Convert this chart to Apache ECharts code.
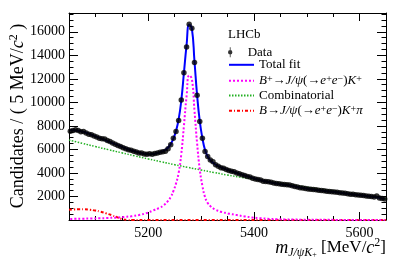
<!DOCTYPE html>
<html><head><meta charset="utf-8">
<script src="https://cdn.jsdelivr.net/npm/echarts@6/dist/echarts.min.js"></script>
<style>html,body{margin:0;padding:0;background:#fff}#c{width:407px;height:262px}</style>
</head><body><div id="c"></div>
<script>
const binLow = 5050, binWidth = 5;
const dataCounts = [
 7550,7600,7680,7620,7500,7520,7400,7300,7250,7150,
 7050,6960,6900,6880,6750,6680,6550,6450,6330,6250,
 6150,6050,5980,5920,5850,5780,5700,5690,5620,5580,
 5640,5600,5650,5700,5760,5800,5850,6050,6400,6950,
 7520,8450,10200,12525,14700,16650,16300,13400,10600,8370,
 6960,5820,5400,5100,4950,4700,4580,4450,4400,4300,
 4200,4150,4100,4000,3930,3850,3780,3700,3650,3550,
 3480,3450,3400,3300,3280,3250,3200,3150,3100,3080,
 3050,3020,3000,2980,2920,2850,2800,2750,2720,2680,
 2640,2620,2600,2570,2540,2500,2480,2450,2420,2400,
 2380,2350,2320,2300,2270,2240,2200,2180,2150,2120,
 2100,2080,2050,2020,2000,1960,2050,1880,1830,1780];
const totalFit = [
 7640,7630,7610,7580,7540,7490,7420,7340,7250,7160,
 7070,6980,6900,6810,6720,6630,6540,6450,6360,6270,
 6180,6090,6010,5930,5860,5790,5730,5680,5640,5610,
 5600,5610,5640,5690,5760,5850,5970,6160,6450,6900,
 7560,8550,10150,12500,14850,16600,16300,13500,10600,8400,
 6950,5950,5400,5080,4870,4710,4580,4480,4390,4300,
 4220,4140,4070,4000,3930,3860,3790,3720,3650,3580,
 3510,3450,3390,3330,3280,3230,3180,3140,3100,3060,
 3030,3000,2970,2940,2900,2860,2810,2770,2730,2690,
 2650,2620,2590,2560,2530,2500,2470,2440,2420,2400,
 2380,2350,2320,2290,2260,2230,2200,2170,2150,2120,
 2100,2080,2050,2020,1990,1960,1930,1890,1840,1790];
const signalFit = [
 90,95,100,105,110,115,120,125,130,135,
 140,145,150,160,170,180,190,200,215,230,
 250,270,290,315,345,380,420,470,530,600,
 680,770,870,960,1050,1200,1380,1620,1950,2450,
 3100,4000,5600,8000,10500,12300,12000,9300,6500,4300,
 2900,1950,1450,1180,1000,870,780,700,640,590,
 540,500,460,420,380,340,305,270,240,210,
 185,165,145,130,115,100,90,80,72,65,
 58,52,47,43,39,35,32,29,26,24,
 22,20,18,17,16,15,14,13,12,11,
 10,10,9,9,8,8,7,7,7,6,
 6,6,5,5,5,5,4,4,4,4];
const combMass = [5050,5075,5100,5125,5150,5175,5200,5225,5250,5275,5300,5325,5350,5375,5400,5425,5450,5475,5500,5525,5550,5575,5600,5625,5650];
const combFit = [6800,6520,6245,5975,5710,5450,5195,4945,4705,4475,4250,4035,3825,3640,3460,3290,3120,2955,2790,2630,2470,2310,2150,1965,1780];
const prMass = [5050,5060,5070,5080,5090,5100,5110,5120,5130,5140,5150,5160,5170,5200,5650];
const prFit = [870,900,920,910,870,800,700,570,420,250,90,20,0,0,0];
const xMajor = [5200,5400,5600];
const xMinor = [5100,5150,5250,5300,5350,5450,5500,5550,5650];
const yMajorLabels = [2000,4000,6000,8000,10000,12000,14000,16000];
const yMinor = [500,1000,1500,2500,3000,3500,4500,5000,5500,6500,7000,7500,8500,9000,9500,10500,11000,11500,12500,13000,13500,14500,15000,15500,16500,17000,17500];

const binCenters = dataCounts.map((_, i) => binLow + binWidth*(i+0.5));

const FONT = 'Liberation Serif';
const rich = {
  n:{fontFamily:FONT,fontSize:13,color:'#000'},
  i:{fontFamily:FONT,fontSize:13,fontStyle:'italic',color:'#000'},
  a:{fontFamily:FONT,fontSize:13,color:'#000'},
  nsup:{fontFamily:FONT,fontSize:10,color:'#000',verticalAlign:'top',lineHeight:10}
};
const NAMES = {
  data:'Data', tot:'Total fit', sig:'B+→J/ψ(→e+e−)K+', comb:'Combinatorial', pr:'B→J/ψ(→e+e−)K+π'
};
const legendFmt = {
  'Data':'{n|Data}', 'Total fit':'{n|Total fit}',
  'B+→J/ψ(→e+e−)K+':'{i|B}{nsup|+}{a|→}{i|J/ψ}{n|(}{a|→}{i|e}{nsup|+}{i|e}{nsup|−}{n|)}{i|K}{nsup|+}',
  'Combinatorial':'{n|Combinatorial}',
  'B→J/ψ(→e+e−)K+π':'{i|B}{a|→}{i|J/ψ}{n|(}{a|→}{i|e}{nsup|+}{i|e}{nsup|−}{n|)}{i|K}{nsup|+}{i|π}'
};
const legendCenters = [50.7, 63.3, 79.3, 94, 109.3];
const legendOrder = [NAMES.data, NAMES.tot, NAMES.sig, NAMES.comb, NAMES.pr];
const dataIcon = 'path://M4.4,5A2.2,2.2,0,1,1,0,5A2.2,2.2,0,1,1,4.4,5Z M1.8,0H2.6V10H1.8Z';

const axisLineStyle = {color:'#000',width:1};
const plainNum = (v) => String(v);
function xAx(pos, ticks, len, showLine, labels){
  return {type:'value',min:5050,max:5650,position:pos,
    axisLine:{show:showLine,onZero:false,lineStyle:axisLineStyle},
    axisTick:{show:true,inside:true,length:len,customValues:ticks,lineStyle:axisLineStyle},
    axisLabel:labels?{show:true,customValues:xMajor,formatter:plainNum,fontFamily:FONT,fontSize:14,color:'#000',margin:6}:{show:false},
    splitLine:{show:false}};
}
function yAx(pos, ticks, len, showLine, labels){
  return {type:'value',min:0,max:17600,position:pos,
    axisLine:{show:showLine,onZero:false,lineStyle:axisLineStyle},
    axisTick:{show:true,inside:true,length:len,customValues:ticks,lineStyle:axisLineStyle},
    axisLabel:labels?{show:true,customValues:yMajorLabels,formatter:plainNum,fontFamily:FONT,fontSize:14,color:'#000',margin:4}:{show:false},
    splitLine:{show:false}};
}

const chart = echarts.init(document.getElementById('c'), null, {renderer:'canvas'});
chart.setOption({
  animation:false,
  backgroundColor:'#fff',
  grid:{left:69,right:21,top:13,bottom:42,containLabel:false},
  xAxis:[xAx('bottom',xMajor,8,true,true), xAx('bottom',xMinor,4,false,false), xAx('top',xMajor,8,true,false), xAx('top',xMinor,4,false,false)],
  yAxis:[yAx('left',yMajorLabels,9,true,true), yAx('left',yMinor,4.5,false,false), yAx('right',yMajorLabels,9,true,false), yAx('right',yMinor,4.5,false,false)],
  legend: legendOrder.map((nm,k)=>({
    data:[nm===NAMES.data?{name:nm,icon:dataIcon}:{name:nm,itemStyle:{opacity:0}}],
    orient:'vertical', left:228, top:legendCenters[k]-5, itemWidth:25, itemHeight:10, itemGap:0,
    formatter:(n)=>legendFmt[n], textStyle:{fontFamily:FONT,fontSize:13,color:'#000',rich:rich},
    selectedMode:false, padding:0
  })),
  graphic:[
    {type:'text',left:228,top:28,style:{text:'LHCb',font:'13px "Liberation Serif"',fill:'#000'}},
    {type:'text',x:18,y:116,rotation:Math.PI/2,style:{
      text:'{n|Candidates / ( 5 MeV/}{i|c}{sup|2}{n| )}',align:'center',verticalAlign:'middle',
      rich:{n:{fontFamily:FONT,fontSize:18,lineHeight:20,fill:'#000'},i:{fontFamily:FONT,fontSize:18,fontStyle:'italic',lineHeight:20,fill:'#000'},sup:{fontFamily:FONT,fontSize:12,lineHeight:12,verticalAlign:'top',fill:'#000'}}}},
    {type:'text',x:386,y:248,style:{
      text:'{i|m}{sub|J/ψK}{subsup|+}{n| [MeV/}{i|c}{sup|2}{n|]}',align:'right',verticalAlign:'middle',
      rich:{n:{fontFamily:FONT,fontSize:17,lineHeight:22,fill:'#000'},i:{fontFamily:FONT,fontSize:18,fontStyle:'italic',lineHeight:22,fill:'#000'},
        sub:{fontFamily:FONT,fontSize:12,fontStyle:'italic',lineHeight:13,verticalAlign:'bottom',fill:'#000'},
        subsup:{fontFamily:FONT,fontSize:8,lineHeight:18,verticalAlign:'bottom',fill:'#000'},
        sup:{fontFamily:FONT,fontSize:12,lineHeight:12,verticalAlign:'top',fill:'#000'}}}}
  ],
  series:[
    {name:NAMES.comb,type:'line',xAxisIndex:0,yAxisIndex:0,smooth:true,symbol:'none',
      data:combMass.map((m,i)=>[m,combFit[i]]),lineStyle:{color:'#22b022',width:1.5,type:[1.5,1.5]},itemStyle:{color:'#22b022'},z:2},
    {name:NAMES.pr,type:'line',xAxisIndex:0,yAxisIndex:0,smooth:true,symbol:'none',
      data:prMass.map((m,i)=>[m,prFit[i]]),lineStyle:{color:'#ff0000',width:2,type:[3,2,1,2]},itemStyle:{color:'#ff0000'},z:2},
    {name:NAMES.sig,type:'line',xAxisIndex:0,yAxisIndex:0,smooth:true,symbol:'none',
      data:binCenters.map((m,i)=>[m,signalFit[i]]),lineStyle:{color:'#ff00ff',width:2,type:[2,2]},itemStyle:{color:'#ff00ff'},z:3},
    {name:NAMES.tot,type:'line',xAxisIndex:0,yAxisIndex:0,smooth:true,symbol:'none',
      data:binCenters.map((m,i)=>[m,totalFit[i]]),lineStyle:{color:'#0000ff',width:2},itemStyle:{color:'#0000ff'},z:4},
    {name:NAMES.data,type:'scatter',xAxisIndex:0,yAxisIndex:0,symbol:'circle',symbolSize:5.5,
      data:binCenters.map((m,i)=>[m,dataCounts[i]]),itemStyle:{color:'#000'},z:5}
  ]
});
</script></body></html>
